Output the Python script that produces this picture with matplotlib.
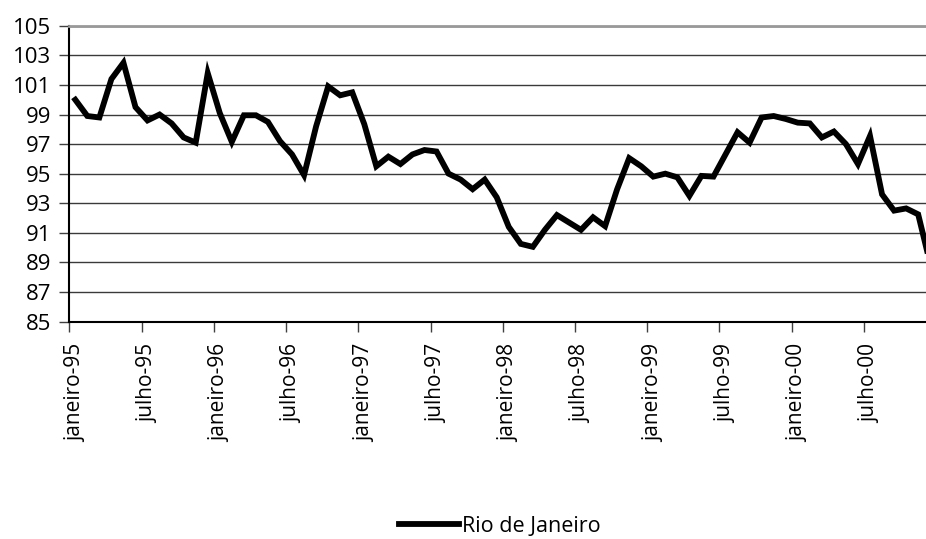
import matplotlib.pyplot as plt
import numpy as np

# Índice mensal - Rio de Janeiro (jan/95 a dez/00)
meses = ['janeiro-95', 'julho-95', 'janeiro-96', 'julho-96', 'janeiro-97', 'julho-97',
         'janeiro-98', 'julho-98', 'janeiro-99', 'julho-99', 'janeiro-00', 'julho-00']

rio = [100.0, 98.9, 98.8, 101.4, 102.5, 99.5, 98.6, 99.0, 98.4, 97.45, 97.1, 101.8,
       99.1, 97.15, 98.95, 98.95, 98.5, 97.2, 96.3, 94.9, 98.2, 100.9, 100.3, 100.5,
       98.35, 95.5, 96.15, 95.65, 96.3, 96.6, 96.5, 95.0, 94.6, 93.95, 94.6, 93.4,
       91.4, 90.25, 90.05, 91.2, 92.2, 91.7, 91.2, 92.05, 91.45, 93.95, 96.05, 95.5,
       94.8, 95.0, 94.75, 93.5, 94.85, 94.8, 96.3, 97.8, 97.1, 98.8, 98.9, 98.7,
       98.45, 98.4, 97.45, 97.85, 97.0, 95.65, 97.55, 93.6, 92.5, 92.65, 92.25, 88.9]

plt.rcParams['font.family'] = ['Open Sans', 'DejaVu Sans']

fig = plt.figure(figsize=(9.26, 5.39), dpi=100)
ax = fig.add_axes([0.0748, 0.4035, 0.9252, 0.5486])

x = np.arange(len(rio))
linha, = ax.plot(x, rio, color='black', linewidth=4.2, solid_joinstyle='miter',
                 label='Rio de Janeiro', zorder=3)

ax.set_ylim(85, 105)
ax.set_yticks(np.arange(85, 106, 2))
ax.set_xlim(-0.5, 70.65)

# ticks nas fronteiras das categorias, rótulos no centro
ax.set_xticks(np.arange(-0.5, 71, 6))
ax.set_xticklabels([])
ax.set_xticks(np.arange(0, 71, 6)[:len(meses)], minor=True)
ax.set_xticklabels(meses, minor=True, rotation=90, fontsize=15)
ax.tick_params(axis='x', which='major', direction='out', length=7, width=1, color='#404040')
ax.tick_params(axis='x', which='minor', length=0, pad=16)
ax.tick_params(axis='y', direction='out', length=7, width=1, color='#404040', labelsize=16, pad=6)

ax.grid(axis='y', color='#3a3a3a', linewidth=1)
ax.spines['right'].set_visible(False)
ax.spines['top'].set_color('#999999')
ax.spines['top'].set_linewidth(2)
ax.spines['left'].set_linewidth(1.5)
ax.spines['bottom'].set_linewidth(1.5)

fig.legend(handles=[linha], loc='center', bbox_to_anchor=(0.54, 0.024), frameon=False,
           fontsize=15.5, handlelength=2.8, handletextpad=0.15)

plt.savefig('out.png', dpi=100)
